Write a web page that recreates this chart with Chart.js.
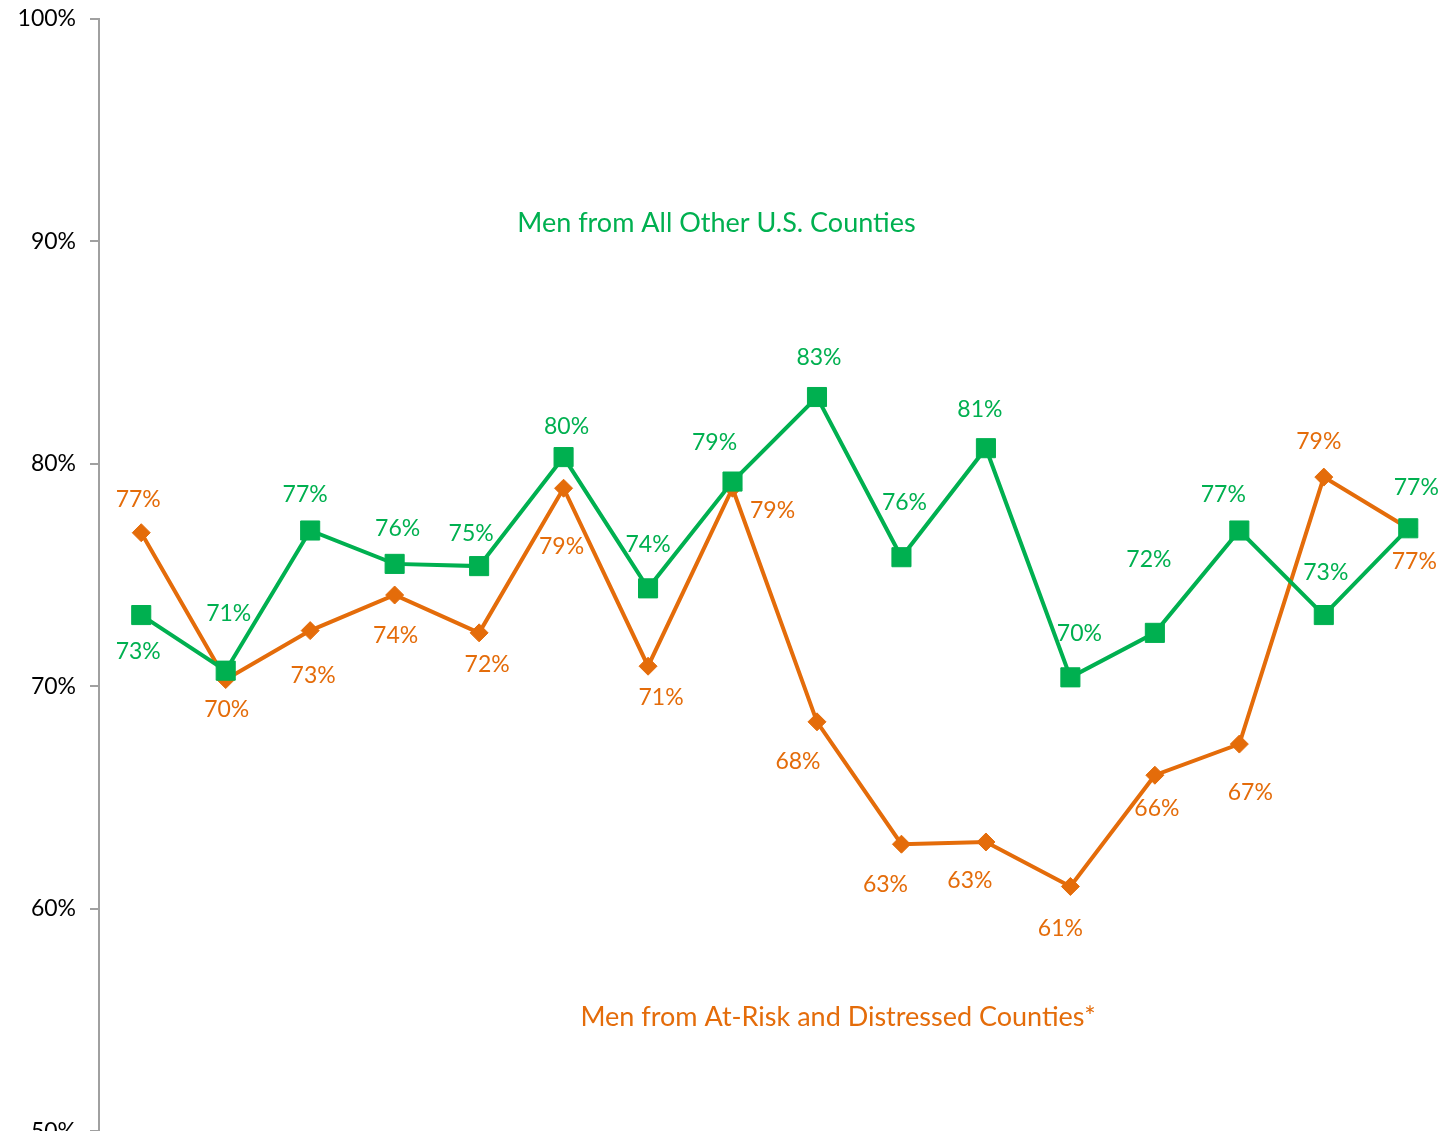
<!DOCTYPE html>
<html>
  <head>
    <title>Men from At-Risk vs All Other Counties</title>
    <script src="https://cdn.jsdelivr.net/npm/chart.js"></script>
    <style>
      html, body { margin: 0; padding: 0; background: #fff; overflow: hidden; }
      /* slightly bigger than the window: the x axis and 50% label fall below the visible area, like the source */
      #wrap { width: 1465px; height: 1168px; margin-top: -9px; }
    </style>
  </head>
  <body>
    <div id="wrap"><canvas id="myChart"></canvas></div>

    <script>
      // 16 unlabeled categories (x axis is below the visible area)
      const categories = ["1", "2", "3", "4", "5", "6", "7", "8", "9", "10", "11", "12", "13", "14", "15", "16"];

      const otherCounties = [73.2, 70.7, 77.0, 75.5, 75.4, 80.3, 74.4, 79.2, 83.0, 75.8, 80.7, 70.4, 72.4, 77.0, 73.2, 77.1];
      const atRiskCounties = [76.9, 70.3, 72.5, 74.1, 72.4, 78.9, 70.9, 78.9, 68.4, 62.9, 63.0, 61.0, 66.0, 67.4, 79.4, 77.1];

      const yTicks = [50, 60, 70, 80, 90, 100];

      const otherName = "Men from All Other U.S. Counties";
      const atRiskName = "Men from At-Risk and Distressed Counties*";

      const GREEN = "#00B050";
      const ORANGE = "#E46C0A";
      const FONT = "Lato, 'Open Sans', sans-serif";

      // label nudges (px) so the data labels sit where the original had them
      const otherLabelShift = [
        [-3, 37], [3, -57], [-5, -36], [3, -35], [-8, -33], [3, -31], [0, -44], [-18, -39],
        [2, -39], [3, -55], [-6, -39], [9, -44], [-6, -73], [-16, -36], [2, -42], [8, -41]
      ];
      const atRiskLabelShift = [
        [-3, -33], [1, 30], [3, 45], [1, 41], [8, 32], [-2, 58], [13, 31], [40, 22],
        [-19, 40], [-16, 40], [-16, 39], [-10, 42], [2, 33], [11, 48], [-5, -36], [6, 33]
      ];

      const labelPlugin = {
        id: "pctLabels",
        afterDatasetsDraw(chart) {
          const ctx = chart.ctx;
          const x = chart.scales.x;
          const y = chart.scales.y;
          ctx.save();
          ctx.font = "23px " + FONT;
          ctx.textAlign = "center";
          ctx.textBaseline = "middle";
          chart.data.datasets.forEach((ds, di) => {
            const meta = chart.getDatasetMeta(di);
            ctx.fillStyle = ds.borderColor;
            meta.data.forEach((pt, i) => {
              const s = ds.labelShift[i];
              ctx.fillText(Math.round(ds.data[i]) + "%", pt.x + s[0], pt.y + s[1]);
            });
          });
          // series names written inside the plot
          ctx.font = "27px " + FONT;
          ctx.fillStyle = GREEN;
          ctx.fillText(otherName, x.getPixelForValue(6.81), y.getPixelForValue(90.8));
          ctx.fillStyle = ORANGE;
          ctx.fillText(atRiskName, x.getPixelForValue(8.25), y.getPixelForValue(55.1));
          ctx.restore();
        }
      };

      const ctx = document.getElementById("myChart").getContext("2d");
      new Chart(ctx, {
        type: "line",
        data: {
          labels: categories,
          datasets: [
            {
              label: otherName,
              data: otherCounties,
              borderColor: GREEN,
              backgroundColor: GREEN,
              borderWidth: 4,
              pointBorderWidth: 1,
              pointStyle: "rect",
              pointRadius: 13.5,
              pointHoverRadius: 13.5,
              labelShift: otherLabelShift
            },
            {
              label: atRiskName,
              data: atRiskCounties,
              borderColor: ORANGE,
              backgroundColor: ORANGE,
              borderWidth: 4,
              pointBorderWidth: 1,
              pointStyle: "rectRot",
              pointRadius: 9,
              pointHoverRadius: 9,
              labelShift: atRiskLabelShift
            }
          ]
        },
        options: {
          responsive: true,
          maintainAspectRatio: false,
          animation: false,
          layout: { padding: { top: 9, right: 4, left: 0, bottom: 0 } },
          plugins: {
            legend: { display: false },
            tooltip: { enabled: false }
          },
          scales: {
            x: {
              display: false,
              offset: true
            },
            y: {
              min: 50,
              max: 100,
              afterFit: (scale) => { scale.width = 99; },
              afterBuildTicks: (scale) => { scale.ticks = yTicks.map((v) => ({ value: v })); },
              border: { color: "#A0A0A0", width: 2 },
              grid: { drawOnChartArea: false, color: "#A0A0A0", tickLength: 9, lineWidth: 2 },
              ticks: {
                padding: 14,
                color: "#000",
                font: { family: FONT, size: 23 },
                callback: (v) => v + "%"
              }
            }
          }
        },
        plugins: [labelPlugin]
      });
    </script>
  </body>
</html>
